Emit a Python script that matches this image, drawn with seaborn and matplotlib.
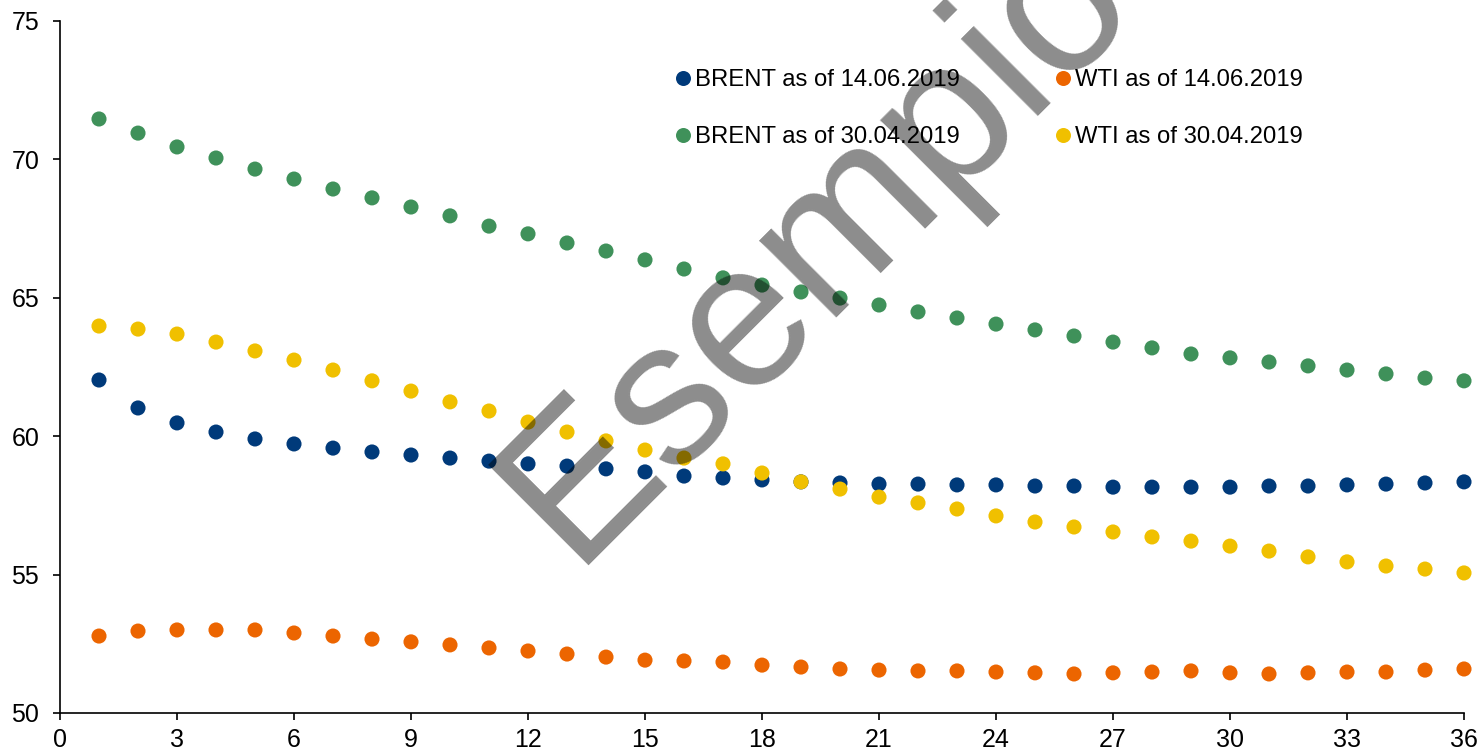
import numpy as np
import pandas as pd
import matplotlib
matplotlib.use('Agg')
import matplotlib.pyplot as plt
import seaborn as sns

# mesi (1..36)
months = list(range(1, 37))

brent_1406 = [62.03, 61.02, 60.48, 60.15, 59.90, 59.72, 59.57, 59.43, 59.32, 59.21,
              59.10, 59.00, 58.92, 58.82, 58.71, 58.56, 58.49, 58.42, 58.35, 58.31,
              58.27, 58.27, 58.24, 58.24, 58.20, 58.20, 58.16, 58.16, 58.16, 58.16,
              58.20, 58.20, 58.24, 58.27, 58.31, 58.35]
brent_3004 = [71.46, 70.95, 70.45, 70.05, 69.65, 69.29, 68.93, 68.61, 68.28, 67.96,
              67.59, 67.31, 66.98, 66.69, 66.37, 66.04, 65.72, 65.46, 65.21, 64.99,
              64.74, 64.49, 64.27, 64.05, 63.84, 63.62, 63.40, 63.19, 62.97, 62.83,
              62.68, 62.54, 62.39, 62.25, 62.10, 62.00]
wti_1406 = [52.78, 52.96, 53.00, 53.00, 53.00, 52.89, 52.78, 52.67, 52.57, 52.46,
            52.35, 52.24, 52.13, 52.02, 51.91, 51.88, 51.84, 51.73, 51.66, 51.59,
            51.55, 51.52, 51.52, 51.48, 51.45, 51.41, 51.45, 51.48, 51.52, 51.45,
            51.41, 51.45, 51.48, 51.48, 51.55, 51.59]
wti_3004 = [63.98, 63.87, 63.69, 63.40, 63.08, 62.75, 62.39, 62.00, 61.63, 61.24,
            60.91, 60.51, 60.15, 59.83, 59.50, 59.21, 59.00, 58.67, 58.35, 58.09,
            57.80, 57.59, 57.37, 57.12, 56.90, 56.72, 56.54, 56.36, 56.21, 56.03,
            55.85, 55.64, 55.46, 55.31, 55.20, 55.06]

series_names = ['BRENT as of 14.06.2019', 'BRENT as of 30.04.2019',
                'WTI as of 14.06.2019', 'WTI as of 30.04.2019']
series_values = [brent_1406, brent_3004, wti_1406, wti_3004]
colors = ['#003a7a', '#3f915a', '#ec6500', '#f0c000']

x_ticks = list(range(0, 37, 3))
y_ticks = [50, 55, 60, 65, 70, 75]


def run():
    sns.set_style('ticks')
    plt.rcParams['font.family'] = ['Liberation Sans', 'DejaVu Sans']
    plt.rcParams['text.color'] = 'black'
    plt.rcParams['xtick.color'] = 'black'
    plt.rcParams['ytick.color'] = 'black'

    df = pd.DataFrame({
        'mese': months * len(series_names),
        'prezzo': [v for vals in series_values for v in vals],
        'serie': [n for n in series_names for _ in months],
    })

    fig = plt.figure(figsize=(14.82, 7.51), dpi=100)
    ax = fig.add_axes([60 / 1482, 1 - 713 / 751, (1464 - 60) / 1482, (713 - 21) / 751])

    sns.scatterplot(data=df, x='mese', y='prezzo', hue='serie', hue_order=series_names,
                    palette=dict(zip(series_names, colors)), s=118, linewidth=0,
                    ax=ax, clip_on=False, zorder=3)

    ax.set_xlim(0, 36)
    ax.set_ylim(50, 75)
    ax.set_xticks(x_ticks)
    ax.set_yticks(y_ticks)
    ax.set_xlabel('')
    ax.set_ylabel('')
    ax.tick_params(labelsize=18, length=5, width=1.2, colors='black')
    ax.tick_params(axis='y', pad=10)
    ax.tick_params(axis='x', pad=6)
    sns.despine(ax=ax)
    for sp in ['left', 'bottom']:
        ax.spines[sp].set_linewidth(1.2)
        ax.spines[sp].set_color('black')

    # legenda a due colonne senza cornice
    handles, labels = ax.get_legend_handles_labels()
    for h in handles:
        h.set_markersize(10.8)
    ax.legend(handles, labels, ncol=2, frameon=False, fontsize=17.2,
              loc='upper left', bbox_to_anchor=(675.6 / 1482, 1 - 69.5 / 751),
              bbox_transform=fig.transFigure, borderaxespad=0, borderpad=0,
              handlelength=0.6, handletextpad=0.2, columnspacing=4.03,
              labelspacing=1.45)

    # filigrana
    fig.text(572 / 1482, 1 - 566 / 751, 'Esempio', fontsize=148, color='black',
             alpha=0.45, rotation=45, rotation_mode='anchor',
             ha='left', va='baseline')

    fig.savefig('out.png', dpi=100)


if __name__ == '__main__':
    run()
